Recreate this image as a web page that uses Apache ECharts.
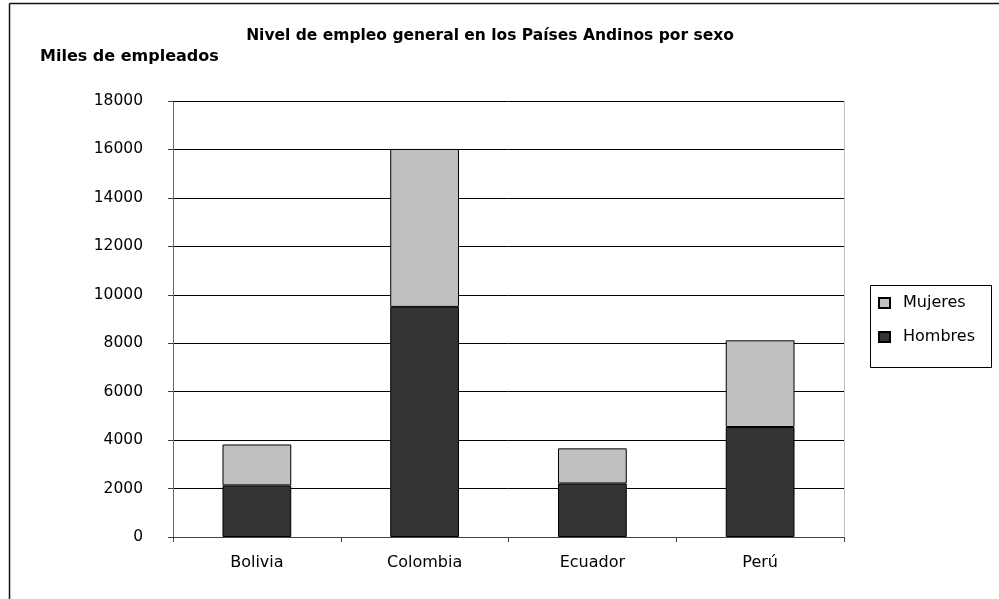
<!DOCTYPE html>
<html><head><meta charset="utf-8">
<script src="https://cdn.jsdelivr.net/npm/echarts@6/dist/echarts.min.js"></script>
<style>html,body{margin:0;padding:0;background:#fff}#c{width:999px;height:599px}</style>
</head><body><div id="c"></div>
<script>
const categories = ['Bolivia', 'Colombia', 'Ecuador', 'Perú'];
const hombres = [2130, 9500, 2210, 4540];
const mujeres = [1690, 6520, 1450, 3580];
const yTicks = [0, 2000, 4000, 6000, 8000, 10000, 12000, 14000, 16000, 18000];

const FONT = 'DejaVu Sans, Verdana, sans-serif';
const chart = echarts.init(document.getElementById('c'), null, {renderer: 'canvas'});
chart.setOption({
  animation: false,
  backgroundColor: '#fff',
  title: {
    text: 'Nivel de empleo general en los Países Andinos por sexo',
    left: 485, top: 23, textAlign: 'center',
    textStyle: {fontFamily: FONT, fontSize: 15.5, fontWeight: 'bold', color: '#000'}
  },
  graphic: [
    {type: 'line', shape: {x1: 9.5, y1: 3.5, x2: 999, y2: 3.5}, style: {stroke: '#111', lineWidth: 1.5}},
    {type: 'line', shape: {x1: 9.5, y1: 3.5, x2: 9.5, y2: 599}, style: {stroke: '#111', lineWidth: 1.5}},
    {type: 'text', x: 40, y: 57, style: {text: 'Miles de empleados', font: 'bold 16px ' + FONT, fill: '#000', textVerticalAlign: 'middle'}},
    {type: 'line', shape: {x1: 844.5, y1: 101, x2: 844.5, y2: 537}, style: {stroke: '#c0c0c0', lineWidth: 1}},
    {type: 'rect', shape: {x: 870.5, y: 285.5, width: 121, height: 82}, style: {fill: 'none', stroke: '#000', lineWidth: 1}}
  ],
  legend: {
    data: ['Mujeres', 'Hombres'],
    orient: 'vertical',
    left: 873, top: 290,
    itemWidth: 11, itemHeight: 10, itemGap: 18,
    icon: 'rect',
    textStyle: {fontFamily: FONT, fontSize: 16, color: '#000', padding: [0, 0, 0, 8]}
  },
  grid: {left: 173, right: 155, top: 101, bottom: 62, containLabel: false},
  xAxis: {
    type: 'category', data: categories,
    axisLine: {lineStyle: {color: '#444', width: 1}},
    axisTick: {show: true, length: 5, alignWithLabel: false, lineStyle: {color: '#444'}},
    axisLabel: {fontFamily: FONT, fontSize: 16, color: '#000', margin: 18}
  },
  yAxis: {
    type: 'value', min: 0, max: 18000, interval: 2000,
    axisLine: {show: true, lineStyle: {color: '#666', width: 1}},
    axisTick: {show: true, length: 5, lineStyle: {color: '#444'}},
    axisLabel: {fontFamily: FONT, fontSize: 15.5, color: '#000', margin: 30,
      formatter: v => yTicks.includes(v) ? String(v) : ''},
    splitLine: {show: true, lineStyle: {color: '#000', width: 1}}
  },
  series: [
    {name: 'Hombres', type: 'bar', stack: 't', data: hombres, barWidth: '41%',
      itemStyle: {color: '#333333', borderColor: '#000', borderWidth: 1}},
    {name: 'Mujeres', type: 'bar', stack: 't', data: mujeres, barWidth: '41%',
      itemStyle: {color: '#c0c0c0', borderColor: '#000', borderWidth: 1}}
  ]
});
</script></body></html>
